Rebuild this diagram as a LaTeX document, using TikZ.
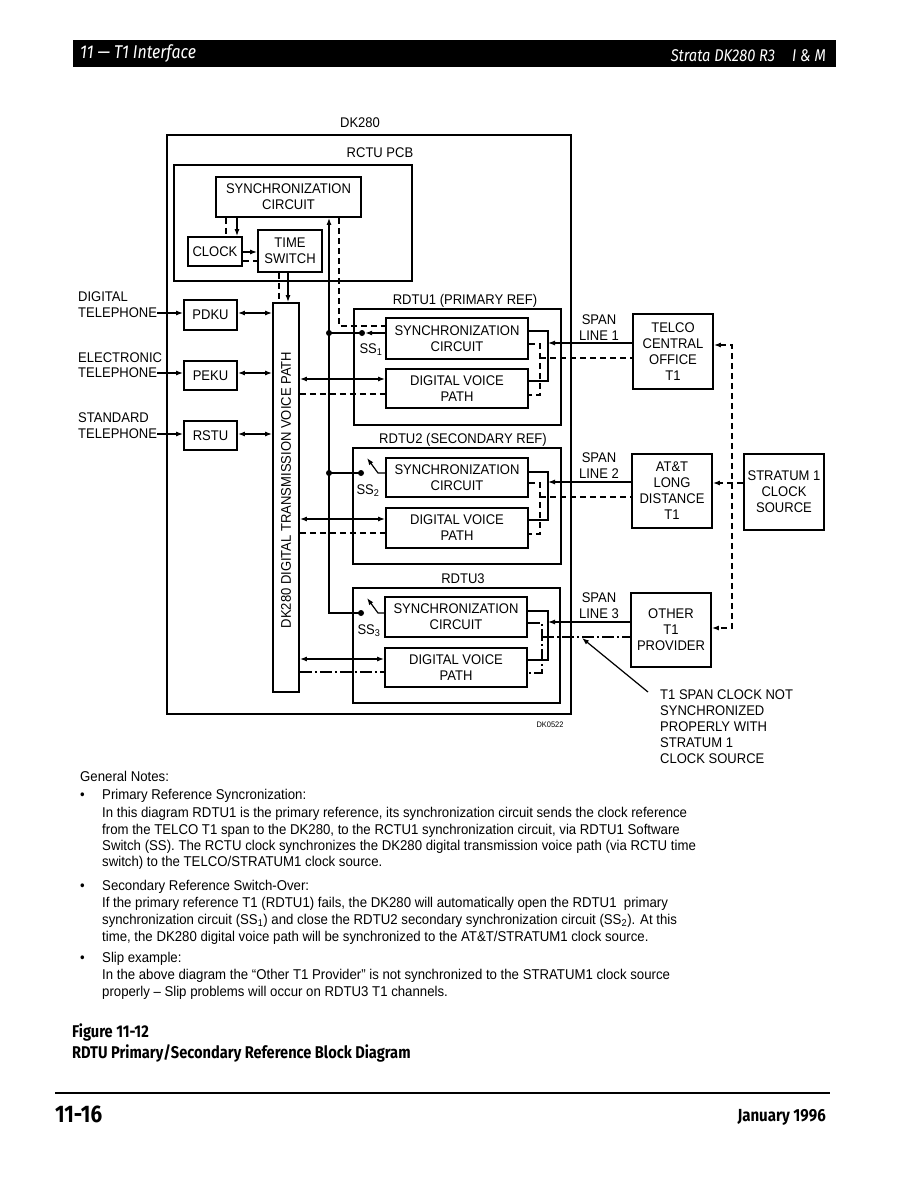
\documentclass[tikz,border=0pt]{standalone}
\usepackage{fontspec}
\setmainfont{Liberation Sans}
\newfontfamily\dg[FakeStretch=0.93]{Liberation Sans}
\newfontfamily\hd[FakeStretch=0.86]{Fira Sans}
\usetikzlibrary{arrows.meta}
\tikzset{
 box/.style={draw, line width=1.8pt, inner sep=0pt, align=center, font=\dg\fontsize{14}{16}\selectfont},
 frame/.style={draw, line width=1.8pt, inner sep=0pt},
 lbl/.style={inner sep=0pt, align=center, font=\dg\fontsize{14}{16}\selectfont},
 ln/.style={line width=1.2pt},
 dsh/.style={line width=1.2pt, dash pattern=on 6pt off 4pt},
 dd/.style={line width=1.2pt, dash pattern=on 12pt off 3pt on 2pt off 3pt},
 arr/.style={-{Latex[length=7pt,width=5pt]}},
 barr/.style={{Latex[length=7pt,width=5pt]}-{Latex[length=7pt,width=5pt]}},
 jdot/.style={circle, fill, inner sep=0pt, minimum size=6pt},
 nt/.style={inner sep=0pt, anchor=base west, font=\dg\fontsize{14.2}{16}\selectfont},
}
\begin{document}
\begin{tikzpicture}[x=1pt,y=-1pt]
\useasboundingbox (0,0) rectangle (918,1188);
% header
\fill (73,40) rectangle (836,67);
\node[anchor=west, text=white, inner sep=0pt, font=\hd\itshape\fontsize{18.5}{18.5}\selectfont] (hl) at (80,54) {11 — T1 Interface};
\node[anchor=east, text=white, inner sep=0pt, font=\hd\itshape\fontsize{17}{17}\selectfont] (hr) at (826,56) {Strata DK280 R3\quad I \& M};

% DK280 frame
\node[lbl] (dklbl) at (360,123) {DK280};
\node[frame, minimum width=404pt, minimum height=579pt] (dk) at (369,424.5) {};
\node[lbl] (rctulbl) at (380,153) {RCTU PCB};
\node[frame, minimum width=238pt, minimum height=116pt] (rctu) at (293,223) {};
\node[box, minimum width=145pt, minimum height=40pt] (rsync) at (288.5,197) {SYNCHRONIZATION\\CIRCUIT};
\node[box, minimum width=54pt, minimum height=29pt] (clock) at (215,251.5) {CLOCK};
\node[box, minimum width=64pt, minimum height=42pt] (tsw) at (290,251) {TIME\\SWITCH};
\node[frame, minimum width=26pt, minimum height=389pt] (vp) at (286,497.5) {};
\node[lbl, rotate=90] (vplbl) at (286,490) {DK280 DIGITAL TRANSMISSION VOICE PATH};

% line cards
\node[lbl, anchor=west] (dig) at (78,297) {DIGITAL};
\node[lbl, anchor=west] (tel1) at (78,313) {TELEPHONE};
\node[lbl, anchor=west] (ele) at (78,358) {ELECTRONIC};
\node[lbl, anchor=west] (tel2) at (78,373) {TELEPHONE};
\node[lbl, anchor=west] (std) at (78,418) {STANDARD};
\node[lbl, anchor=west] (tel3) at (78,434) {TELEPHONE};
\node[box, minimum width=53pt, minimum height=30pt] (pdku) at (210.5,315) {PDKU};
\node[box, minimum width=53pt, minimum height=29pt] (peku) at (210.5,375.5) {PEKU};
\node[box, minimum width=53pt, minimum height=29pt] (rstu) at (210.5,435.5) {RSTU};
\draw[ln,arr] (tel1.east) -- (tel1.east -| pdku.west);
\draw[ln,arr] (tel2.east) -- (tel2.east -| peku.west);
\draw[ln,arr] (tel3.east) -- (tel3.east -| rstu.west);
\draw[ln,barr] (pdku.east |- tel1.east) -- (vp.west |- tel1.east);
\draw[ln,barr] (peku.east |- tel2.east) -- (vp.west |- tel2.east);
\draw[ln,barr] (rstu.east |- tel3.east) -- (vp.west |- tel3.east);

% RCTU connectors
\draw[ln,arr] (rsync.south -| 237,0) -- (clock.north -| 237,0);
\draw[dsh] (rsync.south -| 226,0) -- (clock.north -| 226,0);
\draw[ln,arr] (clock.east |- 0,252) -- (tsw.west |- 0,252);
\draw[dsh] (clock.east |- 0,261) -- (tsw.west |- 0,261);
\draw[ln,arr] (tsw.south -| 288,0) -- (vp.north -| 288,0);
\draw[dsh] (tsw.south -| 279,0) -- (vp.north -| 279,0);

% RDTU boxes
\node[lbl] (r1lbl) at (465,301) {RDTU1 (PRIMARY REF)};
\node[frame, minimum width=207pt, minimum height=116pt] (r1) at (457.5,367) {};
\node[box, minimum width=142pt, minimum height=41pt] (s1) at (457,338.5) {SYNCHRONIZATION\\CIRCUIT};
\node[box, minimum width=142pt, minimum height=39pt] (d1) at (457,388.5) {DIGITAL VOICE\\PATH};
\node[lbl] (r2lbl) at (463,440) {RDTU2 (SECONDARY REF)};
\node[frame, minimum width=208pt, minimum height=116pt] (r2) at (457,506) {};
\node[box, minimum width=142pt, minimum height=39pt] (s2) at (457,477.5) {SYNCHRONIZATION\\CIRCUIT};
\node[box, minimum width=142pt, minimum height=40pt] (d2) at (457,528) {DIGITAL VOICE\\PATH};
\node[lbl] (r3lbl) at (463,579) {RDTU3};
\node[frame, minimum width=207pt, minimum height=115pt] (r3) at (456.5,645.5) {};
\node[box, minimum width=142pt, minimum height=40pt] (s3) at (456,617) {SYNCHRONIZATION\\CIRCUIT};
\node[box, minimum width=142pt, minimum height=39pt] (d3) at (456,667.5) {DIGITAL VOICE\\PATH};

% switches
\node[jdot] (j1) at (329,333) {};
\node[jdot] (j2) at (329,473) {};
\node[jdot] (c1) at (362,333) {};
\node[jdot] (c2) at (361,473) {};
\node[jdot] (c3) at (361,613) {};
\draw[ln,arr] (c3.center) -- (329,613) -- (rsync.south -| 329,0);
\draw[ln] (j1.center) -- (c1.center);
\draw[ln] (j2.center) -- (c2.center);
\draw[ln,arr] (s1.west |- c1) -- (c1.east);
\draw[ln,arr] (s2.west |- c2) -- (378,473) -- (367,458);
\draw[ln,arr] (s3.west |- c3) -- (378,613) -- (367,598);
\draw[dsh] (rsync.south -| 339,0) -- (339,326) -- (s1.west |- 0,326);
\node[lbl] (ss1) at (371,350) {SS\textsubscript{1}};
\node[lbl] (ss2) at (368,491) {SS\textsubscript{2}};
\node[lbl] (ss3) at (369,631) {SS\textsubscript{3}};

% voice path links
\draw[ln,barr] (vp.east |- 0,379) -- (d1.west |- 0,379);
\draw[dsh] (vp.east |- 0,394) -- (d1.west |- 0,394);
\draw[ln,barr] (vp.east |- 0,519) -- (d2.west |- 0,519);
\draw[dsh] (vp.east |- 0,533) -- (d2.west |- 0,533);
\draw[ln,barr] (vp.east |- 0,659) -- (d3.west |- 0,659);
\draw[dd] (vp.east |- 0,672) -- (d3.west |- 0,672);

% right side of RDTUs
\draw[ln] (s1.east |- 0,331) -- (548,331) -- (548,381) -- (d1.east |- 0,381);
\draw[dsh] (s1.east |- 0,344) -- (540,344) -- (540,395) -- (d1.east |- 0,395);
\draw[ln] (s2.east |- 0,472) -- (548,472) -- (548,520) -- (d2.east |- 0,520);
\draw[dsh] (s2.east |- 0,483) -- (540,483) -- (540,534) -- (d2.east |- 0,534);
\draw[ln] (s3.east |- 0,611) -- (548,611) -- (548,660) -- (d3.east |- 0,660);
\draw[dd] (s3.east |- 0,623) -- (542,623) -- (542,673) -- (d3.east |- 0,673);

% T1 providers
\node[box, minimum width=80pt, minimum height=75pt] (telco) at (673,351.5) {TELCO\\CENTRAL\\OFFICE\\T1};
\node[box, minimum width=80pt, minimum height=74pt] (att) at (672,491) {AT\&T\\LONG\\DISTANCE\\T1};
\node[box, minimum width=80pt, minimum height=76pt] (strat) at (784,492) {STRATUM 1\\CLOCK\\SOURCE};
\node[box, minimum width=80pt, minimum height=74pt] (other) at (671,630) {OTHER\\T1\\PROVIDER};
\node[lbl] (sp1) at (599,327.5) {SPAN\\LINE 1};
\node[lbl] (sp2) at (599,466) {SPAN\\LINE 2};
\node[lbl] (sp3) at (599,605.5) {SPAN\\LINE 3};

\draw[ln,arr] (telco.west |- 0,343) -- (548,343);
\draw[dsh] (540,358) -- (telco.west |- 0,358);
\draw[ln,arr] (att.west |- 0,482) -- (548,482);
\draw[dsh] (540,497) -- (att.west |- 0,497);
\draw[ln,arr] (other.west |- 0,622) -- (548,622);
\draw[dd] (542,637) -- (other.west |- 0,637);

\draw[dsh,barr] (telco.east |- 0,345) -- (732,345) -- (732,628) -- (other.east |- 0,628);
\draw[dsh,arr] (strat.west |- 0,483) -- (att.east |- 0,483);

% annotation
\node[lbl, anchor=north west, align=left, font=\dg\fontsize{14}{15.8}\selectfont] (note) at (660,690) {T1 SPAN CLOCK NOT\\SYNCHRONIZED\\PROPERLY WITH\\STRATUM 1\\CLOCK SOURCE};
\coordinate (astart) at (648,692);
\coordinate (tip) at (582,638);
\draw[ln,arr] (astart) -- (tip);
\node[inner sep=0pt, font=\dg\fontsize{8}{8}\selectfont] (dkid) at (550,725) {DK0522};

% notes
\node[nt] (g0) at (80,781) {General Notes:};
\node[nt] (b1) at (80,799) {•};
\node[nt] (t1) at (102,799) {Primary Reference Syncronization:};
\node[nt] (t2) at (102,817) {In this diagram RDTU1 is the primary reference, its synchronization circuit sends the clock reference};
\node[nt] (t3) at (102,834) {from the TELCO T1 span to the DK280, to the RCTU1 synchronization circuit, via RDTU1 Software};
\node[nt] (t4) at (102,850) {Switch (SS). The RCTU clock synchronizes the DK280 digital transmission voice path (via RCTU time};
\node[nt] (t5) at (102,866) {switch) to the TELCO/STRATUM1 clock source.};
\node[nt] (b2) at (80,890) {•};
\node[nt] (u1) at (102,890) {Secondary Reference Switch-Over:};
\node[nt] (u2) at (102,907) {If the primary reference T1 (RDTU1) fails, the DK280 will automatically open the RDTU1\ \ primary};
\node[nt] (u3) at (102,924) {synchronization circuit (SS\textsubscript{1}) and close the RDTU2 secondary synchronization circuit (SS\textsubscript{2}). At this};
\node[nt] (u4) at (102,941) {time, the DK280 digital voice path will be synchronized to the AT\&T/STRATUM1 clock source.};
\node[nt] (b3) at (80,962) {•};
\node[nt] (v1) at (102,962) {Slip example:};
\node[nt] (v2) at (102,979) {In the above diagram the “Other T1 Provider” is not synchronized to the STRATUM1 clock source};
\node[nt] (v3) at (102,996) {properly – Slip problems will occur on RDTU3 T1 channels.};

% caption
\node[inner sep=0pt, anchor=base west, font=\hd\bfseries\fontsize{17}{17}\selectfont] (fig) at (72,1037) {Figure 11-12};
\node[inner sep=0pt, anchor=base west, font=\hd\bfseries\fontsize{17}{17}\selectfont] (cap) at (72,1058) {RDTU Primary/Secondary Reference Block Diagram};

% footer
\draw[line width=2pt] (55,1093) -- (830,1093);
\node[inner sep=0pt, anchor=base west, font=\hd\bfseries\fontsize{24}{24}\selectfont] (pg) at (55,1122) {11-16};
\node[inner sep=0pt, anchor=base east, font=\hd\bfseries\fontsize{17.5}{17.5}\selectfont] (date) at (826,1121) {January 1996};
\end{tikzpicture}
\end{document}
